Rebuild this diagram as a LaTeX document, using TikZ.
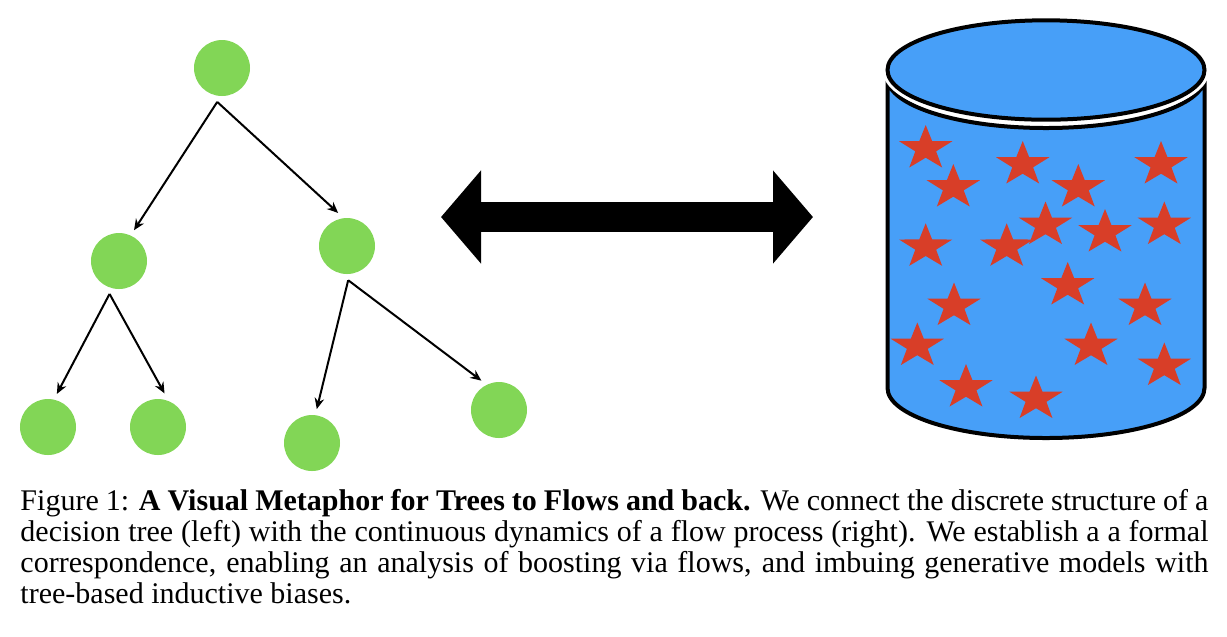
\documentclass[tikz,border=0pt]{standalone}
\usepackage{fontspec}
\setmainfont{Liberation Serif}
\usetikzlibrary{arrows.meta}
\definecolor{leafgreen}{RGB}{130,214,86}
\definecolor{flowblue}{RGB}{71,159,248}
\definecolor{starred}{RGB}{216,62,40}

\newcommand{\starat}[2]{%
  \fill[starfill] (#1,#2-23.5)
    \foreach \k [evaluate=\k as \r using {23.5-14.3*mod(\k,2)}] in {1,...,9}
      { -- ({#1+1.19*\r*cos(90+36*\k)},{#2-\r*sin(90+36*\k)}) } -- cycle;}

\begin{document}
\begin{tikzpicture}[x=0.4pt, y=-0.4pt,
   treenode/.style={circle, fill=leafgreen, minimum size=22.4pt, inner sep=0pt, outer sep=2.5pt},
   split/.style={-{Stealth[length=4.4pt,width=3.8pt]}, line width=0.8pt},
   starfill/.style={fill=starred},
   tank/.style={fill=flowblue, draw=black, line width=1.6pt}]
   \useasboundingbox (0,0) rectangle (1227,636);
   \node[treenode] (Root) at (222,68) {};
   \node[treenode] (Left) at (119,261) {};
   \node[treenode] (Right) at (347,246) {};
   \node[treenode] (LeftLeft) at (48,427) {};
   \node[treenode] (LeftRight) at (158,427) {};
   \node[treenode] (RightLeft) at (312,443) {};
   \node[treenode] (RightRight) at (499,410) {};
   \draw[split] (Root.-98) -- (Left.64);
   \draw[split] (Root.-98) -- (Right.105);
   \draw[split] (Left.-106) -- (LeftLeft.75);
   \draw[split] (Left.-106) -- (LeftRight.79);
   \draw[split] (Right.-88) -- (RightLeft.82);
   \draw[split] (Right.-88) -- (RightRight.121);
   \coordinate (TreeEnd) at (441,217);
   \coordinate (FlowEnd) at (813,217);
   \draw[line width=11.76pt, {Triangle[length=16pt,width=36.4pt]}-{Triangle[length=16pt,width=36.4pt]}] (TreeEnd) -- (FlowEnd);
   \path[tank] (887.5,78) -- (887.5,388)
      arc[start angle=180, end angle=0, x radius=158.5, y radius=50]
      -- (1204.5,78)
      arc[start angle=0, end angle=180, x radius=158.5, y radius=50] -- cycle;
   \foreach \sx/\sy in {925.7/148.5, 1022.7/164.5, 953.3/187.5, 925.7/246.8, 1006.7/246.8,
      1161/164.5, 1078.3/187.5, 1045.5/225, 1105/232.5, 1164.3/225, 1067.7/285.5,
      954/306, 917.3/346, 966/387.5, 1036/399, 1145/306, 1091/346, 1164.3/366}
      \starat{\sx}{\sy};
   \draw[white, line width=4pt] (1046,70) ellipse[x radius=158.5, y radius=49.7];
   \path[tank] (1046,70) ellipse[x radius=158.5, y radius=49.7];
   \node[anchor=north west, inner sep=0pt, text width=475.2pt, align=justify,
      font=\fontsize{12}{12.4}\selectfont] (Caption) at (20,489)
      {Figure 1: \textbf{A Visual Metaphor for Trees to Flows and back.} We connect the discrete structure of a\linebreak
      decision tree (left) with the continuous dynamics of a flow process (right). We establish a a formal\linebreak
      correspondence, enabling an analysis of boosting via flows, and imbuing generative models with\linebreak
      tree-based inductive biases.};
\end{tikzpicture}
\end{document}
